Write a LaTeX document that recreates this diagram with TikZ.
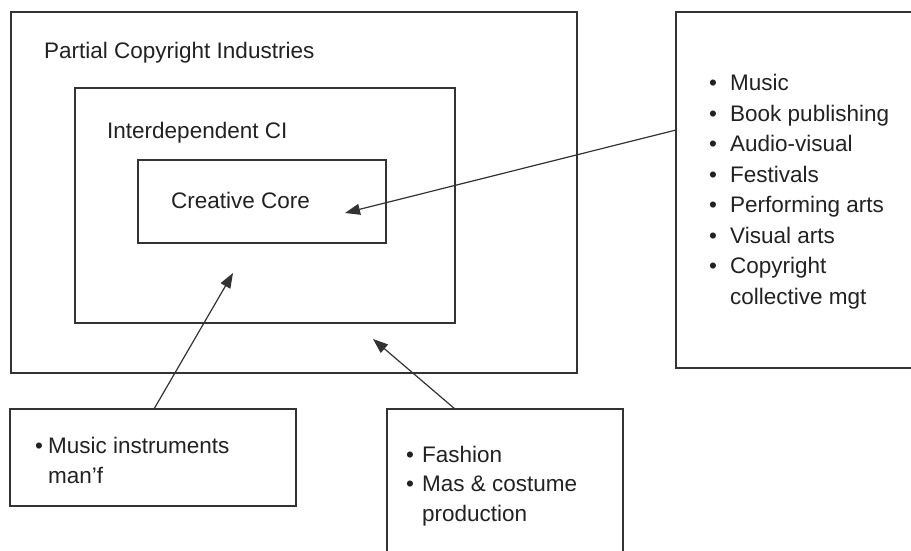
\documentclass[tikz,border=0pt]{standalone}
\usepackage{fontspec}
\setmainfont{Liberation Sans}
\usetikzlibrary{arrows.meta}
\definecolor{linec}{HTML}{333333}
\definecolor{textc}{HTML}{222222}
\tikzset{
  box/.style={draw=linec, line width=1.3pt, inner sep=0pt, outer sep=0pt, anchor=north west},
  lbl/.style={text=textc, inner sep=0pt, anchor=base west, font=\fontsize{22.5}{30.5}\selectfont, align=left},
  arr/.style={draw=linec, line width=1.2pt, -{Triangle[length=15pt,width=11pt]}}
}
\newcommand{\bul}[1]{\makebox[#1][l]{\textbullet}}
\begin{document}
\begin{tikzpicture}[x=1pt,y=-1pt]
\useasboundingbox (0,0) rectangle (911,551);
\clip (0,0) rectangle (911,551);
\fill[white] (0,0) rectangle (911,551);
% boxes
\node[box, minimum width=566pt, minimum height=361pt] (outer) at (11,12) {};
\node[box, minimum width=380pt, minimum height=235pt] (inter) at (75,88) {};
\node[box, minimum width=248pt, minimum height=83pt] (core) at (138,160) {};
\node[box, minimum width=260pt, minimum height=356pt] (rbox) at (676,12) {};
\node[box, minimum width=286pt, minimum height=97pt] (bl) at (10,409) {};
\node[box, minimum width=236pt, minimum height=170pt] (bm) at (387,409) {};
% labels
\node[lbl] (tpart) at (44,59) {Partial Copyright Industries};
\node[lbl] (tinter) at (107,138) {Interdependent CI};
\node[lbl] (tcore) at (171,208) {Creative Core};
\node[lbl] (tlist) at (709,304) {\bul{21pt}Music\\
\bul{21pt}Book publishing\\
\bul{21pt}Audio-visual\\
\bul{21pt}Festivals\\
\bul{21pt}Performing arts\\
\bul{21pt}Visual arts\\
\bul{21pt}Copyright\\
\hspace*{21pt}collective mgt};
\node[lbl, font=\fontsize{22.5}{30}\selectfont] (tbl) at (35,483) {\bul{13pt}Music instruments\\
\hspace*{13pt}man’f};
\node[lbl, font=\fontsize{22.5}{29.5}\selectfont] (tbm) at (406,521) {\bul{16pt}Fashion\\
\bul{16pt}Mas \& costume\\
\hspace*{16pt}production};
% arrow targets
\coordinate (t1) at (345,213);
\coordinate (t2) at (233,273);
\coordinate (t3) at (373,339);
% arrows
\draw[arr] ([yshift=-118pt]rbox.north west) -- (t1);
\draw[arr] ([xshift=144pt]bl.north west) -- (t2);
\draw[arr] ([xshift=68pt]bm.north west) -- (t3);
\end{tikzpicture}
\end{document}
